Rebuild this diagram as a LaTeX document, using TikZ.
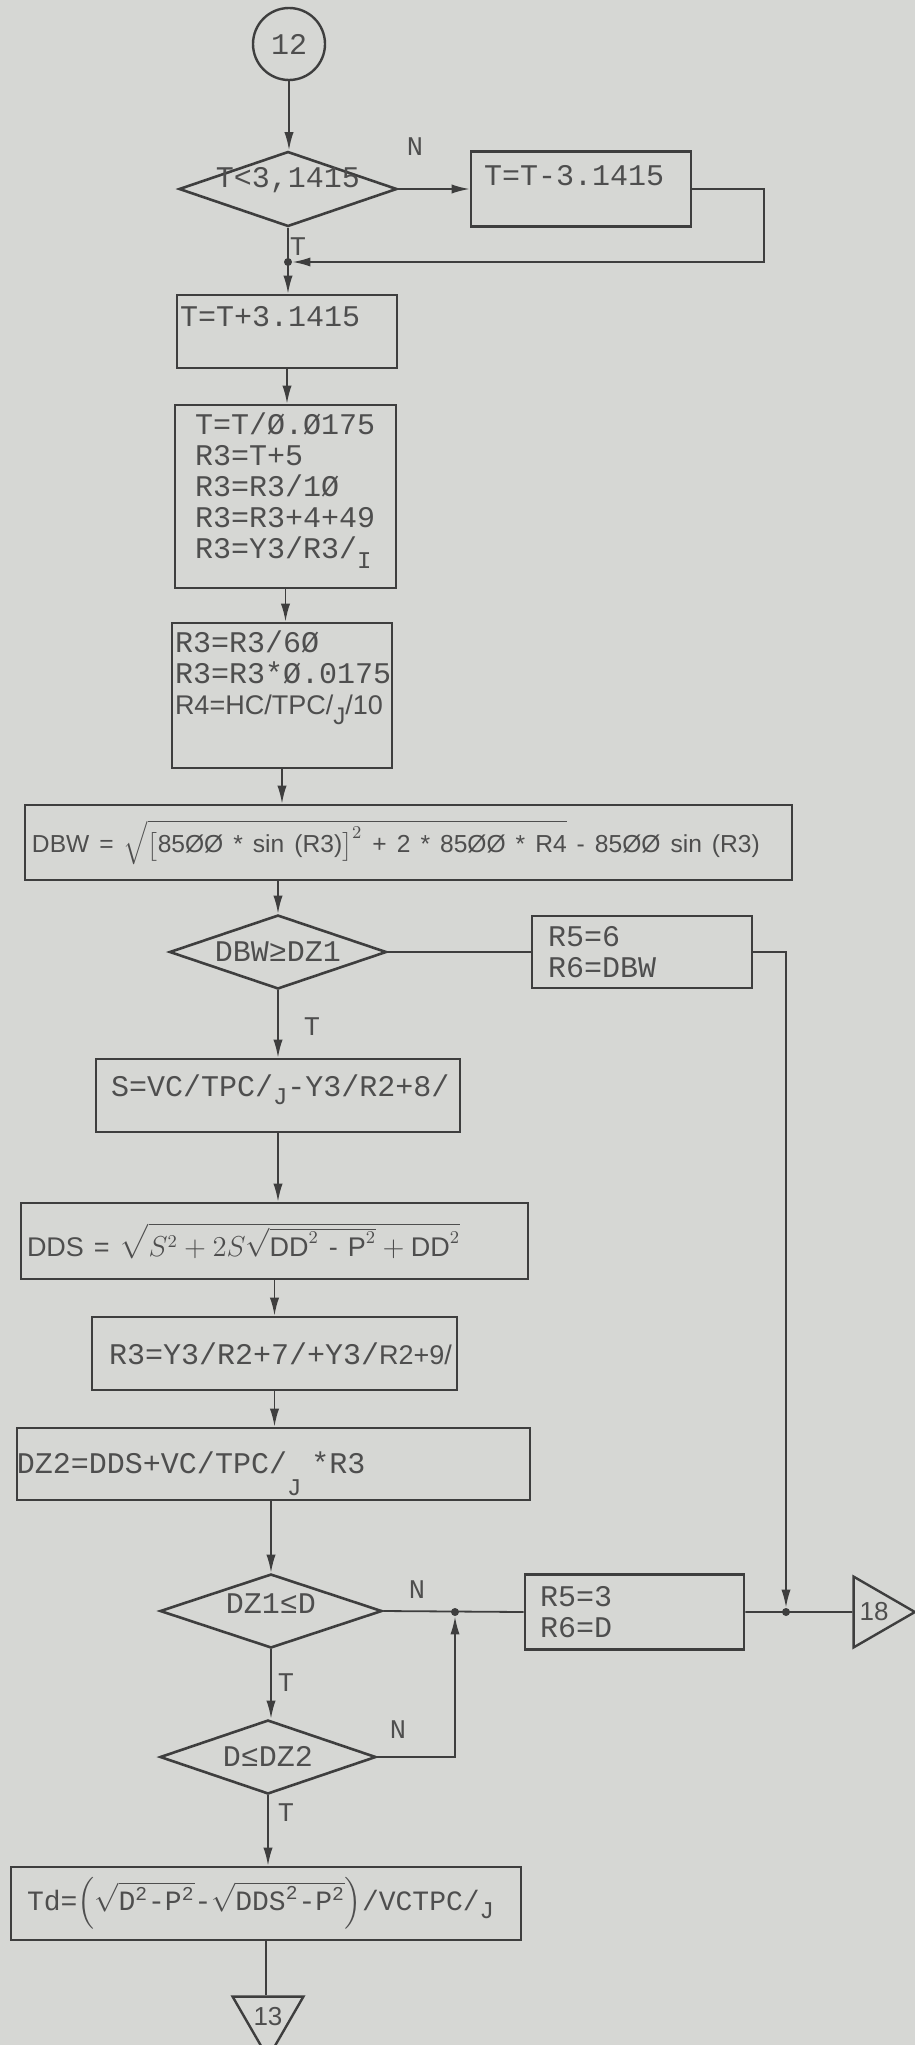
\documentclass[tikz,border=0pt]{standalone}
\usepackage{amsmath}
\usepackage{fontspec}
\setmonofont{Liberation Mono}
\setsansfont{Liberation Sans}
\usetikzlibrary{shapes.geometric,arrows.meta,positioning}
\definecolor{paper}{RGB}{214,215,212}
\definecolor{ink}{RGB}{62,62,62}
\definecolor{typed}{RGB}{78,78,78}
\newcommand{\lowsub}[2][5pt]{\raisebox{-#1}{\fontsize{12}{12}\selectfont #2}}
\newcommand{\tw}{\ttfamily\fontsize{15}{15.5}\selectfont}
\newcommand{\sfs}[2][13.5]{{\sffamily\fontsize{#1}{15.5}\selectfont #2}}

\begin{document}
\begin{tikzpicture}[x=0.5pt,y=-0.5pt,
  proc/.style={rectangle, draw=ink, line width=1.3pt, font=\tw, text=typed, align=left, inner ysep=0pt},
  dec/.style={diamond, draw=ink, line width=1.3pt, aspect=2.9, inner sep=0pt, font=\tw, text=typed},
  conn/.style={circle, draw=ink, line width=1.2pt, minimum size=36pt, inner sep=0pt, font=\tw, text=typed},
  offpage/.style={regular polygon, regular polygon sides=3, draw=ink, line width=1.2pt, inner sep=0pt, font=\sffamily\fontsize{13}{13}\selectfont, text=typed},
  lbl/.style={font=\ttfamily\fontsize{13.5}{13.5}\selectfont, text=typed},
  carr/.style={-{Latex[length=9pt,width=4.6pt]}, line width=0.9pt, draw=ink},
  cline/.style={line width=0.9pt, draw=ink},
  dot/.style={circle, fill=ink, inner sep=0pt, minimum size=4pt},
]
\useasboundingbox (0,0) rectangle (915,2045);
\fill[paper] (0,0) rectangle (915,2045);

% --- top: entry connector and the T<pi loop ---
\node[conn] (c12) at (289,44) {12};
\node[dec, minimum width=109pt, minimum height=37.5pt, text height=0pt, text depth=2pt] (d1) at (288,189) {T<3,1415};
\node[proc, text width=97pt, inner xsep=6.5pt, minimum height=37.5pt, text depth=13.5pt] (b2) at (581,189) {T=T-3.1415};
\node[dot] (j1) at (288,262) {};
\coordinate (loopR) at (764,262);

% --- straight chain of process boxes ---
\node[proc, text width=107pt, inner xsep=1.5pt, minimum height=36.5pt, text depth=15.5pt] (b3) at (287,331.5) {T=T+3.1415};
\node[proc, text width=90.5pt, inner xsep=10pt, minimum height=91.5pt, text depth=72.5pt] (b4) at (285.5,496.5)
  {T=T/Ø.Ø175\\R3=T+5\\R3=R3/1Ø\\R3=R3+4+49\\R3=Y3/R3/\lowsub{I}};
\node[proc, text width=107pt, inner xsep=1.5pt, minimum height=72.5pt, text depth=53.5pt] (b5) at (282,695.5)
  {R3=R3/6Ø\\R3=R3*Ø.0175\\\sfs{R4=HC/TPC/\lowsub{J}/10}};
\node[proc, text width=376.5pt, inner xsep=3.5pt, minimum height=37.5pt] (b6) at (408.5,842.5)
  {\sfs[12.3]{DBW = $\sqrt{\bigl[\text{85ØØ * sin (R3)}\bigr]^{2}\text{ + 2 * 85ØØ * R4}}$ - 85ØØ sin (R3)}};

% --- DBW test, right branch goes down to the exit ---
\node[dec, minimum width=108.5pt, minimum height=37pt, text height=9pt, text depth=0pt] (d2) at (278,952) {DBW≥DZ1};
\node[proc, text width=94pt, inner xsep=8pt, minimum height=36pt] (r56) at (642,952) {R5=6\\R6=DBW};

\node[proc, text width=167pt, inner xsep=7.5pt, minimum height=36.5pt, text depth=9.5pt] (bS) at (278,1095.5) {S=VC/TPC/\lowsub[4pt]{J}-Y3/R2+8/};
\node[proc, text width=247.5pt, inner xsep=3pt, minimum height=38pt] (bDDS) at (274.5,1241)
  {\sfs{DDS = $\sqrt{S^{2}+2S\sqrt{\text{DD}^{2}\text{ - P}^{2}}+\text{DD}^{2}}$}};
\node[proc, text width=165.5pt, inner xsep=8.5pt, minimum height=36.5pt] (bR3) at (274.5,1353.5) {R3=Y3/R2+7/+Y3/\sfs{R2+9/}};
\node[proc, text width=256.5pt, inner xsep=0pt, minimum height=36pt, text depth=1.5pt] (bDZ2) at (273.5,1464) {DZ2=DDS+VC/TPC/\lowsub[11pt]{J} *R3};

% --- range test DZ1<=D<=DZ2 and exits ---
\node[dec, minimum width=111pt, minimum height=37pt, text height=2pt, text depth=0pt] (d3) at (271,1611) {DZ1≤D};
\node[dot] (j3) at (455,1612) {};
\node[proc, text width=94.5pt, inner xsep=7.5pt, minimum height=37.5pt] (r53) at (634.5,1612) {R5=3\\R6=D};
\node[dot] (j2) at (786,1612) {};
\node[offpage, minimum size=36.4pt, shape border rotate=-90] (t18) at (874,1612) {18};
\node[dec, minimum width=108pt, minimum height=37pt, text height=9pt, text depth=0pt] (d4) at (268,1757) {D≤DZ2};
\node[proc, text width=239pt, inner xsep=8pt, minimum height=36.5pt, font=\ttfamily\fontsize{14}{14}\selectfont] (bTd) at (266,1903.5)
  {Td=$\Bigl(\sqrt{\text{D}^{\text{2}}\text{-P}^{\text{2}}}\text{-}\sqrt{\text{DDS}^{\text{2}}\text{-P}^{\text{2}}}\Bigr)$/VCTPC/\lowsub[4pt]{J}};
\node[offpage, minimum size=38pt, shape border rotate=180] (t13) at (268,2017) {13};

% --- branch labels ---
\node[lbl] (nA) at (415,147) {N};
\node[lbl] (tA) at (298,247) {T};
\node[lbl] (tB) at (312,1027) {T};
\node[lbl] (nB) at (417,1590) {N};
\node[lbl] (tC) at (286,1683) {T};
\node[lbl] (nC) at (398,1730) {N};
\node[lbl] (tD) at (286,1813) {T};

% --- arrows: top loop ---
\draw[carr] (c12) -- (c12 |- d1.north);
\draw[carr] (d1.east) -- (b2.west);
\draw[carr] (b2.east) -| (loopR) -- (j1);
\draw[carr] (d1.south) -- (d1.south |- b3.north);

% --- arrows: main spine ---
\draw[carr] (b3.south) -- (b3.south |- b4.north);
\draw[carr] (b4.south) -- (b4.south |- b5.north);
\draw[carr] (b5.south) -- (b5.south |- b6.north);
\draw[carr] (d2.north |- b6.south) -- (d2.north);
\draw[carr] (d2.south) -- (d2.south |- bS.north);
\draw[carr] (bS.south) -- (bS.south |- bDDS.north);
\draw[carr] (bDDS.south) -- (bDDS.south |- bR3.north);
\draw[carr] (bR3.south) -- (bR3.south |- bDZ2.north);
\draw[carr] (d3.north |- bDZ2.south) -- (d3.north);
\draw[carr] (d3.south) -- (d3.south |- d4.north);
\draw[carr] (d4.south) -- (d4.south |- bTd.north);
\draw[cline] (bTd.south) -- (bTd.south |- t13.north);

% --- arrows: N branches into the exit ---
\draw[cline] (d2.east) -- (r56.west);
\draw[carr] (r56.east) -| (j2);
\draw[cline] (d3.east) -- (r53.west);
\draw[carr] (d4.east) -| (j3);
\draw[cline] (r53.east) -- (t18.west);

\end{tikzpicture}
\end{document}
